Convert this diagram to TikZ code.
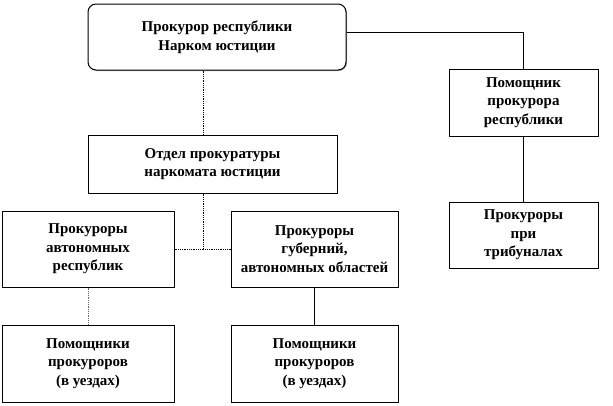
\documentclass[tikz,border=0pt]{standalone}
\usepackage{fontspec}
\setmainfont{Liberation Serif}
\usetikzlibrary{positioning,calc,shadows}

\begin{document}
\begin{tikzpicture}[
	x=1pt,y=-1pt,
	every text node part/.style={align=center},
	bx/.style={draw,line width=1pt,fill=white,inner sep=0,font=\fontsize{15}{18.5}\selectfont\bfseries,
		drop shadow={shadow xshift=1pt,shadow yshift=-1pt,fill=gray!70,opacity=1}},
	rbx/.style={bx,rounded corners=8pt},
	ln/.style={line width=0.7pt},
	dln/.style={line width=0.8pt,densely dotted},
]
\useasboundingbox (0,0) rectangle (613,405);
\node[rbx,minimum width=258pt,minimum height=66pt] (head) at (217,37) {Прокурор республики\\Нарком юстиции};
\node[bx,minimum width=149pt,minimum height=67pt] (pom) at (523.5,102.5) {Помощник\\прокурора\\республики};
\node[bx,minimum width=149pt,minimum height=66pt] (trib) at (523.5,235) {Прокуроры\\при\\трибуналах};
\node[bx,minimum width=249pt,minimum height=58pt] (otd) at (212.5,164) {Отдел прокуратуры\\наркомата юстиции};
\node[bx,minimum width=172pt,minimum height=76pt] (avt) at (88,249) {Прокуроры\\автономных\\республик};
\node[bx,minimum width=167pt,minimum height=76pt] (gub) at (314.5,249) {Прокуроры\\губерний,\\автономных областей};
\node[bx,minimum width=172pt,minimum height=77pt] (avtpom) at (88,363.5) {Помощники\\прокуроров\\(в уездах)};
\node[bx,minimum width=167pt,minimum height=77pt] (gubpom) at (314.5,363.5) {Помощники\\прокуроров\\(в уездах)};
\coordinate (fork) at (203,249);
\draw[dln] (head.south -| fork) -- (otd.north -| fork);
\draw[dln] (otd.south -| fork) -- (fork);
\draw[dln] (avt.east) -- (gub.west);
\draw[dln,gray!80!black] (avt.south) -- (avtpom.north);
\draw[ln] (gub.south) -- (gubpom.north);
\draw[ln] ([yshift=5pt]head.east) -| (pom.north);
\draw[ln] (pom.south) -- (trib.north);
\end{tikzpicture}
\end{document}
